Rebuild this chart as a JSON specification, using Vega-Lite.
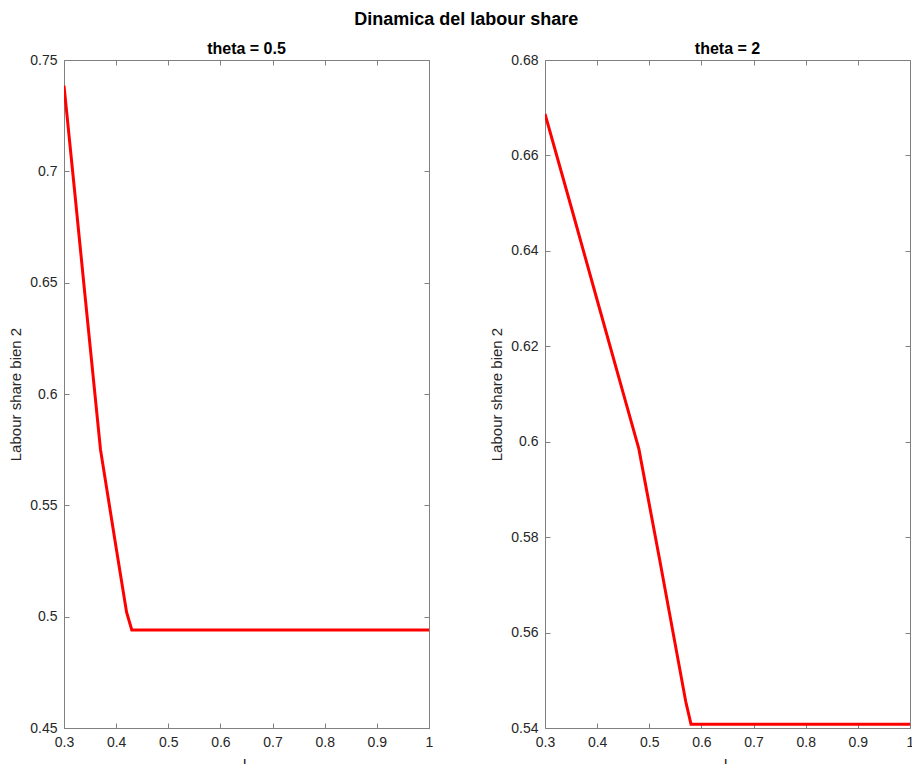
{
  "$schema": "https://vega.github.io/schema/vega-lite/v6.json",
  "background": "white",
  "padding": {"left": 8, "top": 11, "right": 0, "bottom": 0},
  "autosize": {"type": "pad"},
  "title": {"text": "Dinamica del labour share", "fontSize": 18, "fontWeight": "bold", "font": "Liberation Sans", "color": "#000000", "anchor": "middle", "offset": 12, "dx": 5},
  "spacing": 116,
  "bounds": "flush",
  "datasets": {
    "a": [
      {"x": 0.3, "y": 0.7385},
      {"x": 0.32, "y": 0.692},
      {"x": 0.34, "y": 0.645},
      {"x": 0.37, "y": 0.575},
      {"x": 0.4, "y": 0.531},
      {"x": 0.42, "y": 0.502},
      {"x": 0.43, "y": 0.494},
      {"x": 0.6, "y": 0.494},
      {"x": 0.8, "y": 0.494},
      {"x": 1.0, "y": 0.494}
    ],
    "b": [
      {"x": 0.3, "y": 0.6687},
      {"x": 0.35, "y": 0.6493},
      {"x": 0.4, "y": 0.6297},
      {"x": 0.45, "y": 0.6102},
      {"x": 0.48, "y": 0.5985},
      {"x": 0.52, "y": 0.5752},
      {"x": 0.57, "y": 0.5455},
      {"x": 0.58, "y": 0.5408},
      {"x": 0.8, "y": 0.5408},
      {"x": 1.0, "y": 0.5408}
    ]
  },
  "hconcat": [
    {
      "width": 365,
      "height": 668,
      "title": {"text": "theta = 0.5", "fontSize": 16, "fontWeight": "bold", "font": "Liberation Sans", "color": "#000000", "offset": -4},
      "data": {"name": "a"},
      "layer": [
        {
          "mark": {"type": "line", "color": "#ff0000", "strokeWidth": 3, "clip": true},
          "encoding": {
            "x": {"field": "x", "type": "quantitative", "scale": {"domain": [0.3, 1], "nice": false, "zero": false},
              "axis": {"orient": "bottom", "values": [0.3, 0.4, 0.5, 0.6, 0.7, 0.8, 0.9, 1], "format": "~g", "title": "L", "titlePadding": 7}},
            "y": {"field": "y", "type": "quantitative", "scale": {"domain": [0.45, 0.75], "nice": false, "zero": false},
              "axis": {"orient": "left", "values": [0.45, 0.5, 0.55, 0.6, 0.65, 0.7, 0.75], "format": "~g", "title": "Labour share bien 2", "titlePadding": 6}}
          }
        },
        {
          "mark": {"type": "line", "opacity": 0},
          "encoding": {
            "x": {"field": "x", "type": "quantitative", "axis": {"orient": "top", "values": [0.3, 0.4, 0.5, 0.6, 0.7, 0.8, 0.9, 1], "labels": false, "title": null}},
            "y": {"field": "y", "type": "quantitative", "axis": {"orient": "right", "values": [0.45, 0.5, 0.55, 0.6, 0.65, 0.7, 0.75], "labels": false, "title": null}}
          }
        }
      ],
      "resolve": {"axis": {"x": "independent", "y": "independent"}}
    },
    {
      "width": 365,
      "height": 668,
      "title": {"text": "theta = 2", "fontSize": 16, "fontWeight": "bold", "font": "Liberation Sans", "color": "#000000", "offset": -4},
      "data": {"name": "b"},
      "layer": [
        {
          "mark": {"type": "line", "color": "#ff0000", "strokeWidth": 3, "clip": true},
          "encoding": {
            "x": {"field": "x", "type": "quantitative", "scale": {"domain": [0.3, 1], "nice": false, "zero": false},
              "axis": {"orient": "bottom", "values": [0.3, 0.4, 0.5, 0.6, 0.7, 0.8, 0.9, 1], "format": "~g", "title": "L", "titlePadding": 7}},
            "y": {"field": "y", "type": "quantitative", "scale": {"domain": [0.54, 0.68], "nice": false, "zero": false},
              "axis": {"orient": "left", "values": [0.54, 0.56, 0.58, 0.6, 0.62, 0.64, 0.66, 0.68], "format": "~g", "title": "Labour share bien 2", "titlePadding": 6}}
          }
        },
        {
          "mark": {"type": "line", "opacity": 0},
          "encoding": {
            "x": {"field": "x", "type": "quantitative", "axis": {"orient": "top", "values": [0.3, 0.4, 0.5, 0.6, 0.7, 0.8, 0.9, 1], "labels": false, "title": null}},
            "y": {"field": "y", "type": "quantitative", "axis": {"orient": "right", "values": [0.54, 0.56, 0.58, 0.6, 0.62, 0.64, 0.66, 0.68], "labels": false, "title": null}}
          }
        }
      ],
      "resolve": {"axis": {"x": "independent", "y": "independent"}}
    }
  ],
  "config": {
    "font": "Liberation Sans",
    "view": {"stroke": null},
    "axis": {
      "grid": false,
      "domainColor": "#808080",
      "domainWidth": 1,
      "tickColor": "#808080",
      "tickWidth": 1,
      "tickSize": -5,
      "labelPadding": 12,
      "labelFont": "Liberation Sans",
      "labelFontSize": 14,
      "labelColor": "#262626",
      "titleFont": "Liberation Sans",
      "titleFontSize": 15,
      "titleFontWeight": "normal",
      "titleColor": "#262626",
      "labelFlush": false,
      "labelOverlap": false
    }
  }
}
